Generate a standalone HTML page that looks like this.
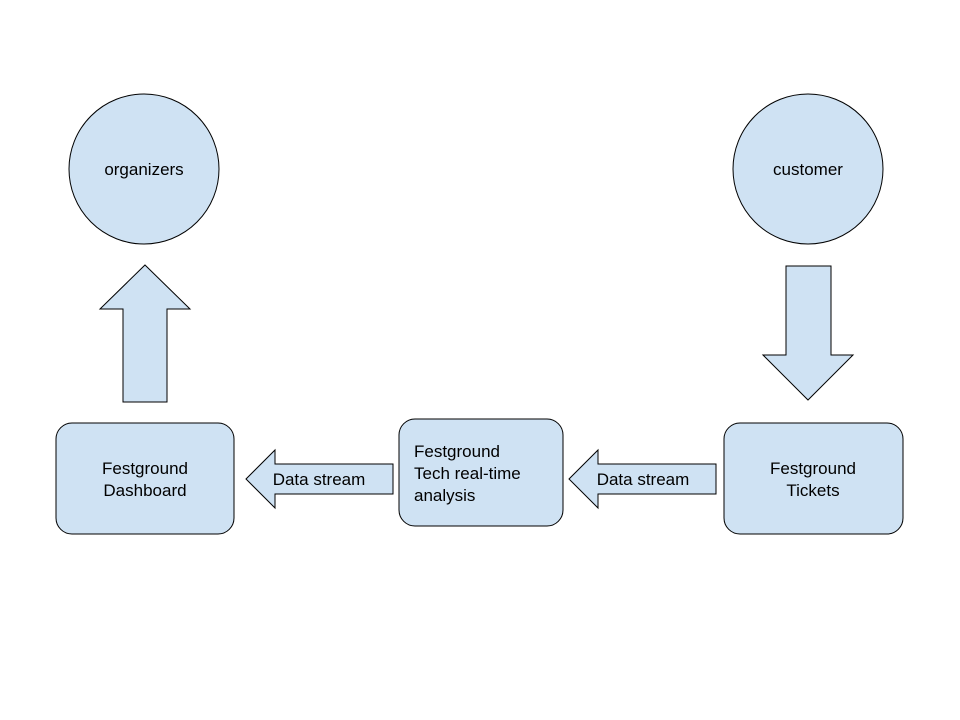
<!DOCTYPE html>
<html><head><meta charset="utf-8"><style>
html,body{margin:0;padding:0;background:#fff;}
svg{display:block;}
text{font-family:"Liberation Sans",Arial,sans-serif;font-size:17px;fill:#000;}
</style></head><body>
<svg width="960" height="720" viewBox="0 0 960 720" xmlns="http://www.w3.org/2000/svg">
<g fill="#cfe2f3" stroke="#000" stroke-width="1">
<circle cx="144" cy="169" r="75"/>
<circle cx="808" cy="169" r="75"/>
<rect x="56" y="423" width="178" height="111" rx="16"/>
<rect x="399" y="419" width="164" height="107" rx="16"/>
<rect x="724" y="423" width="179" height="111" rx="16"/>
<polygon points="145,265 190,309 167,309 167,402 123,402 123,309 100,309"/>
<polygon points="786,266 831,266 831,355 853,355 808,400 763,355 786,355"/>
<polygon points="246,479 275,450 275,464 393,464 393,494 275,494 275,508"/>
<polygon points="569,479 598,450 598,464 716,464 716,494 598,494 598,508"/>
</g>
<text x="144" y="175" text-anchor="middle">organizers</text>
<text x="808" y="175" text-anchor="middle">customer</text>
<text x="145" y="474" text-anchor="middle">Festground</text>
<text x="145" y="496" text-anchor="middle">Dashboard</text>
<text x="813" y="474" text-anchor="middle">Festground</text>
<text x="813" y="496" text-anchor="middle">Tickets</text>
<text x="414" y="457">Festground</text>
<text x="414" y="479">Tech real-time</text>
<text x="414" y="501">analysis</text>
<text x="319" y="485" text-anchor="middle">Data stream</text>
<text x="643" y="485" text-anchor="middle">Data stream</text>
</svg>
</body></html>
